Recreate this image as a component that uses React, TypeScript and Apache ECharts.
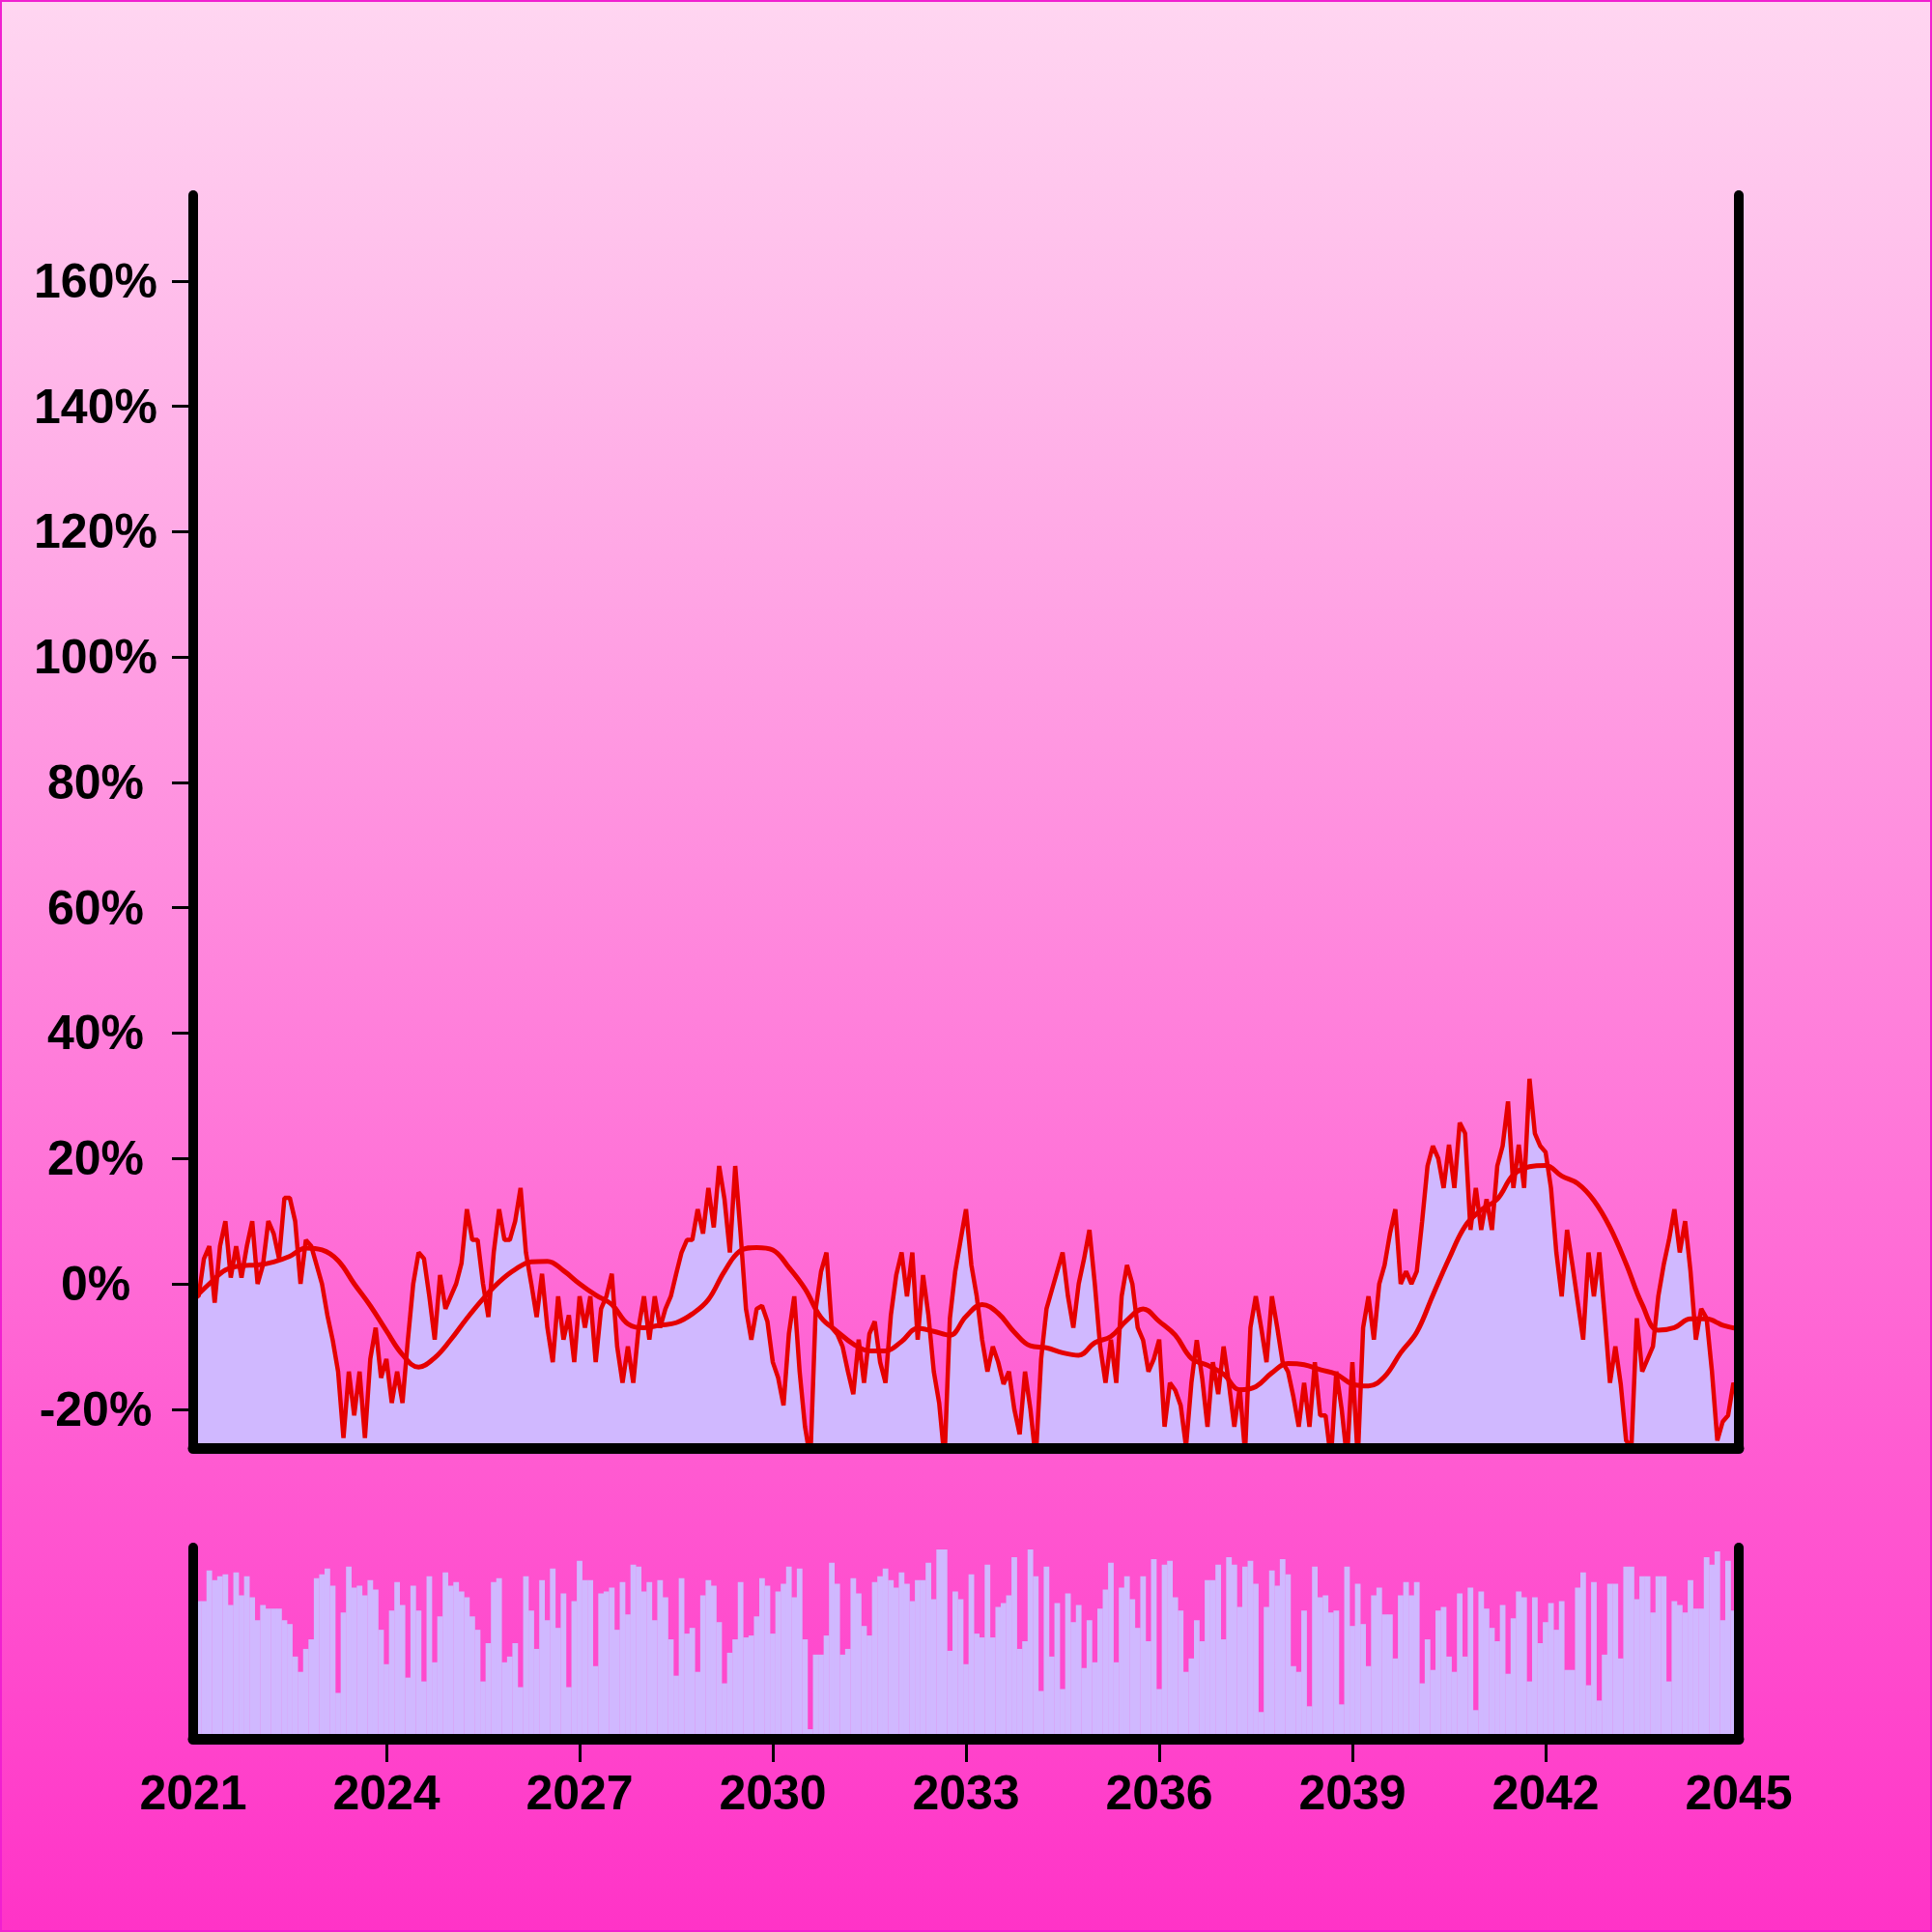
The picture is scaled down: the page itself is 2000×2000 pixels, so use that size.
import React, { useEffect, useRef } from "react";
import * as echarts from "echarts";

// Monthly observations from Jan 2021 (index 0) to Jan 2045 (index 288)
const START_YEAR = 2021;
const xLabelYears = [2021, 2024, 2027, 2030, 2033, 2036, 2039, 2042, 2045];
const xTickYears = [2024, 2027, 2030, 2033, 2036, 2039, 2042];
const yTicks = [-20, 0, 20, 40, 60, 80, 100, 120, 140, 160];

// Monthly return (%)
const returns = [
  -2, -2, 4, 6, -3, 6, 10, 1, 6, 1,
  6, 10, 0, 3, 10, 8, 4, 13.7, 13.7, 10,
  0, 7, 6, 3, 0, -5, -9, -14, -24.6, -14,
  -21, -14, -24.6, -12, -7, -15, -12, -19, -14, -19,
  -9, 0, 5, 4, -2, -8.9, 1.4, -4, -2, 0,
  3.3, 11.9, 7, 7, 0, -5.3, 5, 11.9, 7, 7,
  10, 15.3, 5, 0, -5.3, 1.6, -7, -12.5, -2, -8.9,
  -5, -12.5, -2, -7, -2, -12.5, -4, -2, 1.6, -10,
  -15.8, -10, -15.8, -7, -2, -8.9, -2, -7, -4, -2,
  1.6, 5, 7, 7, 11.9, 8, 15.3, 9, 18.8, 13.5,
  5, 18.8, 8, -4, -8.9, -4, -3.5, -6, -12.5, -15,
  -19.4, -8, -2, -14, -22.8, -28, -4, 2, 5, -7,
  -8, -10, -14, -17.6, -8.9, -15.8, -8, -6, -12.5, -15.8,
  -5, 1.4, 5, -2, 5, -8.9, 1.4, -5, -14, -19,
  -28, -5.5, 2, 7, 11.9, 3, -2, -8.9, -14, -10,
  -12.5, -16, -14, -20, -24, -14, -20, -28, -12, -4,
  -1, 2, 5, -2, -7, 0, 4, 8.6, 0, -10,
  -15.8, -8.9, -15.8, -2, 3, 0, -7, -9, -14, -12,
  -8.9, -22.8, -15.8, -17, -19.4, -26, -15.8, -9, -15, -22.8,
  -12.5, -17.6, -10, -16, -22.8, -16.6, -27, -7, -2, -7,
  -12.5, -2, -7, -12.5, -14, -18, -22.8, -15.8, -22.8, -12.5,
  -21, -21, -28, -14, -20, -28, -12.5, -28, -7, -2,
  -8.9, 0, 3, 8, 11.9, 0, 2, 0, 2, 10,
  18.8, 22, 20, 15.3, 22.2, 15.3, 25.7, 24, 8.6, 15.3,
  8.6, 13.5, 8.6, 18.8, 22, 29.1, 15.3, 22.2, 15.3, 32.7,
  24, 22, 21, 15.3, 5, -2, 8.6, 3, -3, -8.9,
  5, -2, 5, -5, -15.8, -10, -16, -25, -26, -5.5,
  -14, -12, -10, -2, 3, 7, 11.9, 5, 10, 2,
  -8.9, -4, -5.5, -14, -25, -22, -21, -15.8, -18,
];

// Moving average (%), read every 3 months
const MA_STEP = 3;
const movingAvg = [
  -2.5, 0, 2.2, 2.9, 3, 3.5, 4.4, 5.7, 5.4, 3.7,
  0, -3.5, -7.5, -11.3, -13.3, -11.8, -8.9, -5.5, -2.4, 0.3,
  2.3, 3.5, 3.6, 2.1, 0, -1.8, -3.3, -6.4, -7, -6.6,
  -6.2, -4.8, -2.5, 2, 5.3, 5.8, 5.4, 2.6, -0.8, -5.4,
  -7.6, -9.6, -10.7, -10.7, -9.2, -7.1, -7.6, -8.2, -5.2, -3.3,
  -4.7, -7.7, -9.9, -10.2, -11, -11.4, -9.4, -8.4, -5.8, -4,
  -6, -8.2, -11.9, -13, -14.4, -16.9, -16.4, -14.2, -12.7, -12.9,
  -13.7, -14.4, -16, -16.3, -14.8, -11, -7.7, -1.8, 4, 9.2,
  11.8, 13.5, 17.4, 18.7, 18.9, 17.2, 16, 13.3, 9, 3.2,
  -3.3, -7.4, -7, -5.6, -5.6, -6.6, -7.2,
];

// Monthly volume (relative units)
const volume = [
  72, 72, 72, 88, 83, 85, 86, 70, 87, 75,
  85, 74, 62, 70, 68, 68, 68, 62, 60, 43,
  35, 47, 52, 84, 86, 89, 80, 24, 66, 90,
  79, 80, 75, 83, 78, 57, 39, 67, 82, 70,
  32, 80, 67, 30, 85, 40, 64, 87, 80, 82,
  77, 74, 64, 57, 30, 50, 82, 84, 40, 43,
  50, 27, 85, 67, 47, 83, 62, 89, 58, 76,
  27, 72, 93, 83, 83, 38, 76, 77, 79, 57,
  82, 65, 91, 90, 77, 82, 62, 83, 74, 52,
  33, 84, 55, 58, 35, 75, 83, 80, 61, 29,
  45, 52, 82, 53, 54, 64, 84, 80, 55, 77,
  81, 90, 74, 89, 52, 5, 44, 44, 54, 92,
  81, 44, 47, 84, 76, 59, 54, 82, 85, 89,
  83, 79, 87, 81, 72, 83, 83, 92, 73, 99,
  99, 46, 77, 73, 39, 86, 55, 53, 91, 53,
  69, 71, 75, 95, 47, 51, 99, 85, 25, 90,
  43, 71, 26, 76, 61, 70, 37, 62, 40, 68,
  78, 92, 40, 79, 85, 73, 58, 85, 51, 94,
  26, 91, 93, 74, 67, 35, 42, 62, 51, 83,
  83, 91, 52, 95, 91, 69, 90, 93, 81, 14,
  69, 88, 80, 94, 86, 38, 35, 67, 17, 90,
  74, 75, 66, 67, 18, 90, 59, 81, 60, 38,
  75, 79, 65, 65, 42, 75, 82, 75, 82, 29,
  52, 36, 67, 69, 43, 35, 76, 43, 79, 15,
  77, 68, 58, 51, 70, 34, 63, 77, 74, 30,
  74, 50, 61, 71, 57, 72, 36, 36, 79, 87,
  28, 82, 20, 44, 81, 81, 42, 90, 90, 73,
  85, 85, 66, 85, 85, 30, 72, 70, 66, 83,
  68, 68, 95, 91, 98, 62, 93, 67, 67,
];

const RED = "#e60000";
const LAVENDER = "#d0b8ff";
const FONT = "'Liberation Sans', Arial, Helvetica, sans-serif";
const toMonth = (y: number) => (y - START_YEAR) * 12;
const MONTH_MAX = toMonth(2045);
const Y_MIN = -26.2;
const Y_MAX = 173.7;

export default function App() {
  const ref = useRef<HTMLDivElement>(null);

  useEffect(() => {
    if (!ref.current) return;
    const chart = echarts.init(ref.current, undefined, { renderer: "svg" });

    const axisLineStyle = (w: number) => ({
      show: true,
      onZero: false,
      lineStyle: { color: "#000", width: w, cap: "round" as const },
    });
    const hidden = { show: false };

    const option: any = {
      animation: false,
      backgroundColor: new echarts.graphic.LinearGradient(0, 0, 0, 1, [
        { offset: 0, color: "#ffd6f1" },
        { offset: 1, color: "#ff33c7" },
      ]),
      grid: [
        { left: 200, right: 200, top: 202, height: 1297 },
        { left: 200, right: 200, top: 1602, height: 198 },
      ],
      xAxis: [
        {
          gridIndex: 0,
          type: "value",
          min: 0,
          max: MONTH_MAX,
          axisLine: axisLineStyle(11),
          axisTick: hidden,
          axisLabel: hidden,
          splitLine: hidden,
          z: 10,
        },
        {
          gridIndex: 1,
          type: "value",
          min: 0,
          max: MONTH_MAX,
          axisLine: axisLineStyle(11),
          axisTick: {
            show: true,
            length: 24,
            lineStyle: { color: "#000", width: 3 },
            customValues: xTickYears.map(toMonth),
          },
          axisLabel: {
            show: true,
            customValues: xLabelYears.map(toMonth),
            formatter: (v: number) => String(START_YEAR + Math.round(v / 12)),
            margin: 56,
            verticalAlign: "middle",
            fontSize: 50,
            fontWeight: "bold",
            fontFamily: FONT,
            color: "#000",
          },
          splitLine: hidden,
          z: 10,
        },
      ],
      yAxis: [
        {
          gridIndex: 0,
          type: "value",
          min: Y_MIN,
          max: Y_MAX,
          axisLine: axisLineStyle(10),
          axisTick: {
            show: true,
            length: 22,
            lineStyle: { color: "#000", width: 3 },
            customValues: yTicks,
          },
          axisLabel: {
            show: true,
            customValues: yTicks,
            formatter: (v: number) => `${v}%`,
            align: "center",
            margin: 101,
            fontSize: 50,
            fontWeight: "bold",
            fontFamily: FONT,
            color: "#000",
          },
          splitLine: hidden,
          z: 10,
        },
        {
          gridIndex: 0,
          type: "value",
          position: "right",
          min: Y_MIN,
          max: Y_MAX,
          axisLine: axisLineStyle(10),
          axisTick: hidden,
          axisLabel: hidden,
          splitLine: hidden,
          z: 10,
        },
        {
          gridIndex: 1,
          type: "value",
          min: 0,
          max: 100,
          axisLine: axisLineStyle(10),
          axisTick: hidden,
          axisLabel: hidden,
          splitLine: hidden,
          z: 10,
        },
        {
          gridIndex: 1,
          type: "value",
          position: "right",
          min: 0,
          max: 100,
          axisLine: axisLineStyle(10),
          axisTick: hidden,
          axisLabel: hidden,
          splitLine: hidden,
          z: 10,
        },
      ],
      series: [
        {
          name: "Return",
          type: "line",
          xAxisIndex: 0,
          yAxisIndex: 0,
          data: returns.map((v, i) => [i, v]),
          symbol: "none",
          lineStyle: { color: RED, width: 4.5 },
          areaStyle: { color: LAVENDER, opacity: 1, origin: "start" },
          clip: true,
          z: 2,
        },
        {
          name: "Moving average",
          type: "line",
          xAxisIndex: 0,
          yAxisIndex: 0,
          data: movingAvg.map((v, k) => [k * MA_STEP, v]),
          symbol: "none",
          smooth: 0.4,
          lineStyle: { color: RED, width: 5 },
          clip: true,
          z: 3,
        },
        {
          name: "Volume",
          type: "bar",
          xAxisIndex: 1,
          yAxisIndex: 2,
          data: volume.map((v, i) => [i, v]),
          barWidth: 5.8,
          itemStyle: { color: LAVENDER },
          clip: true,
          z: 2,
        },
      ],
    };

    chart.setOption(option);
    return () => chart.dispose();
  }, []);

  return (
    <div style={{ position: "absolute", left: 0, top: 0, width: 2000, height: 2000 }}>
      <div ref={ref} style={{ position: "absolute", left: 0, top: 0, width: 2000, height: 2000 }} />
      <div
        style={{
          position: "absolute",
          left: 0,
          top: 0,
          width: 2000,
          height: 2000,
          boxSizing: "border-box",
          border: "2px solid #f020d0",
          pointerEvents: "none",
        }}
      />
    </div>
  );
}
